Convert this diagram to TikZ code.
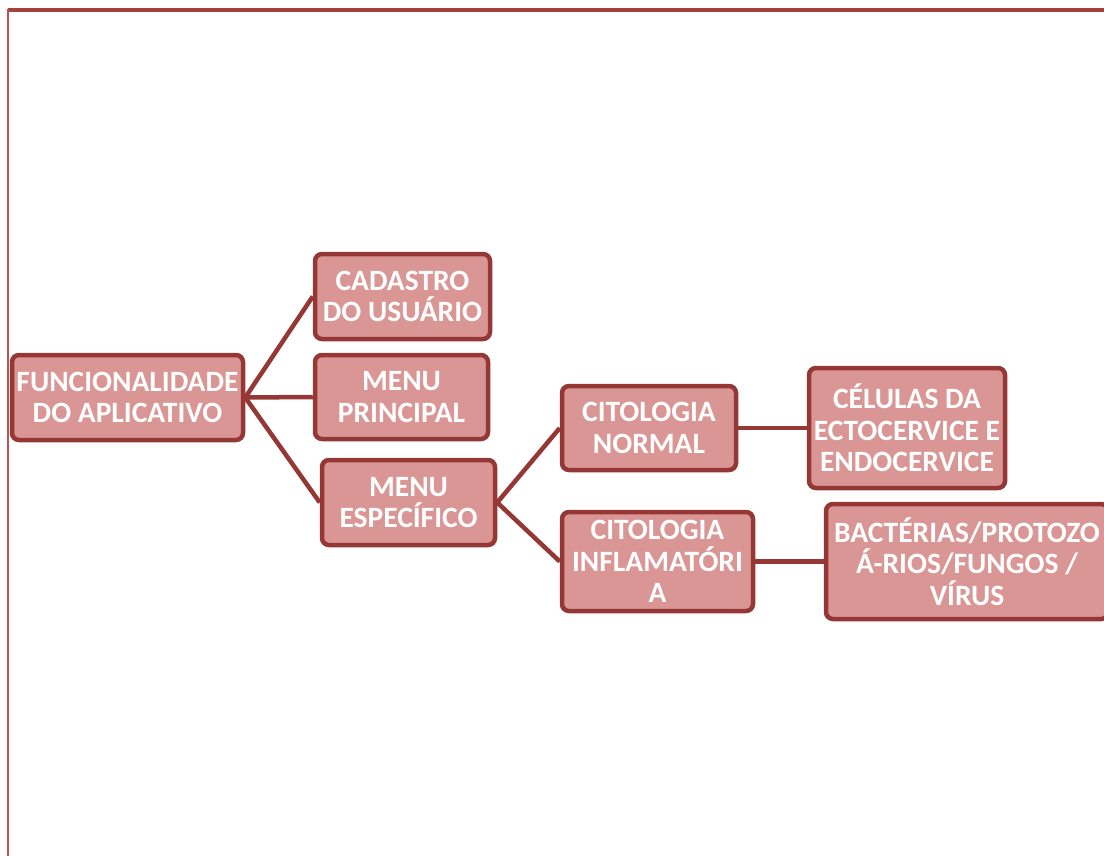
\documentclass[tikz,border=0pt]{standalone}
\usepackage{fontspec}
\setmainfont{Carlito}
\definecolor{boxfill}{HTML}{D99694}
\definecolor{boxline}{HTML}{953735}
\definecolor{frameline}{HTML}{A5403C}
\definecolor{frameleft}{HTML}{B85450}
\tikzset{
  box/.style={draw=boxline, line width=4.5pt, fill=boxfill, rounded corners=7pt,
    text=white, align=center, inner sep=0pt,
    font=\bfseries\fontsize{29.5}{31.5}\selectfont},
  conn/.style={draw=boxline, line width=4.5pt}
}
\begin{document}
\begin{tikzpicture}[x=1pt,y=-1pt]
\useasboundingbox (0,0) rectangle (1104,856);
\draw[frameline, line width=3.5pt] (8,10) -- (1110,10);
\draw[frameleft, line width=2pt] (8,9) -- (8,860);
\node[box, minimum width=231pt, minimum height=85pt] (f) at (127.5,397.5) {FUNCIONALIDADE\\DO APLICATIVO};
\node[box, minimum width=175pt, minimum height=85pt] (c) at (402.5,296.5) {CADASTRO\\DO USUÁRIO};
\node[box, minimum width=173pt, minimum height=84pt] (p) at (401.5,397) {MENU\\PRINCIPAL};
\node[box, minimum width=173pt, minimum height=85pt] (e) at (408.5,502.5) {MENU\\ESPECÍFICO};
\node[box, minimum width=174pt, minimum height=84pt] (n) at (649,428) {CITOLOGIA\\NORMAL};
\node[box, minimum width=196pt, minimum height=120pt] (cel) at (907,428) {CÉLULAS DA\\ECTOCERVICE E\\ENDOCERVICE};
\node[box, minimum width=191pt, minimum height=99pt] (i) at (657.5,561.5) {CITOLOGIA\\INFLAMATÓRI\\A};
\node[box, minimum width=282pt, minimum height=115pt] (b) at (967,561.5) {BACTÉRIAS/PROTOZO\\Á-RIOS/FUNGOS /\\VÍRUS};
\draw[conn] (f.east) -- (c.west);
\draw[conn] (f.east) -- (p.west);
\draw[conn] (f.east) -- (e.west);
\draw[conn] (e.east) -- (n.west);
\draw[conn] (e.east) -- (i.west);
\draw[conn] (n.east) -- (cel.west);
\draw[conn] (i.east) -- (b.west);
\end{tikzpicture}
\end{document}
